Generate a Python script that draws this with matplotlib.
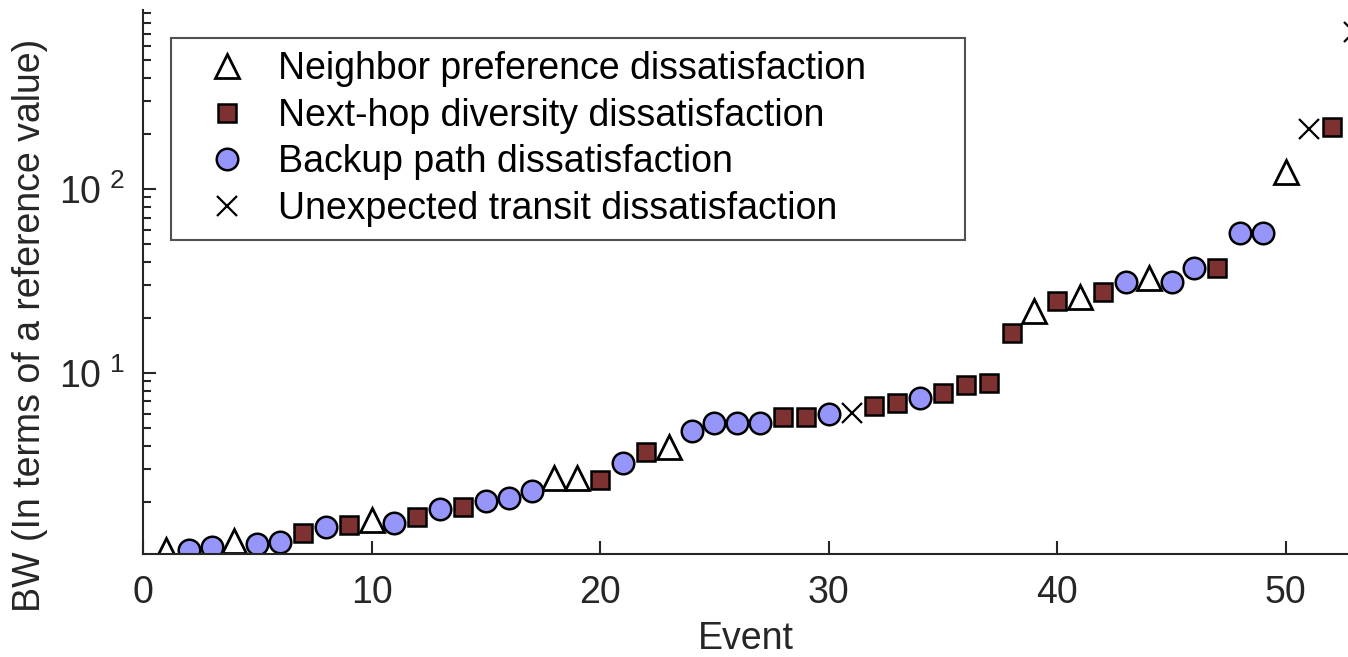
import matplotlib
matplotlib.use("Agg")
import matplotlib.pyplot as plt
from matplotlib.ticker import FixedLocator, FixedFormatter, NullFormatter

plt.rcParams['font.family'] = ['Liberation Sans', 'DejaVu Sans']
plt.rcParams['mathtext.fontset'] = 'custom'
plt.rcParams['mathtext.rm'] = 'Liberation Sans'

# values (event index, bandwidth)
neighbor_x = [1, 4, 10, 18, 19, 23, 39, 41, 44, 50]
neighbor_y = [1.09, 1.22, 1.59, 2.69, 2.69, 3.96, 21.7, 25.9, 32.8, 123.6]

nexthop_x = [7, 9, 12, 14, 20, 22, 28, 29, 32, 33, 35, 36, 37, 38, 40, 42, 47, 52]
nexthop_y = [1.35, 1.49, 1.65, 1.87, 2.62, 3.72, 5.77, 5.77, 6.6, 6.85,
             7.78, 8.61, 8.84, 16.5, 24.6, 27.5, 37.2, 217]

backup_x = [2, 3, 5, 6, 8, 11, 13, 15, 16, 17, 21, 24, 25, 26, 27, 30, 34, 43, 45, 46, 48, 49]
backup_y = [1.09, 1.13, 1.18, 1.21, 1.46, 1.53, 1.82, 2.01, 2.09, 2.29, 3.24, 4.84,
            5.35, 5.35, 5.35, 5.98, 7.31, 31.3, 31.3, 37.2, 57.7, 57.7]

transit_x = [31, 51, 53]
transit_y = [6.07, 212, 713]

labels = ["Neighbor preference dissatisfaction",
          "Next-hop diversity dissatisfaction",
          "Backup path dissatisfaction",
          "Unexpected transit dissatisfaction"]

axis_col = "#262626"
fs = 27

fig = plt.figure(figsize=(13.48, 6.57), dpi=100)
ax = fig.add_axes([0.1061, 0.1568, 0.8939, 0.828])

ax.plot(neighbor_x, neighbor_y, ls="none", marker="^", ms=17, mfc="white",
        mec="black", mew=2, label=labels[0])
ax.plot(nexthop_x, nexthop_y, ls="none", marker="s", ms=13, mfc="#7E3131",
        mec="black", mew=1.8, label=labels[1])
ax.plot(backup_x, backup_y, ls="none", marker="o", ms=15.5, mfc="#9696FA",
        mec="black", mew=1.8, label=labels[2])
ax.plot(transit_x, transit_y, ls="none", marker="x", ms=15, mec="black",
        mew=1.6, label=labels[3])

ax.set_yscale("log")
ax.set_xlim(0, 52.72)
ax.set_ylim(1.038, 940)

ax.set_xticks([0, 10, 20, 30, 40, 50])
ax.yaxis.set_major_locator(FixedLocator([10, 100]))
ax.yaxis.set_major_formatter(FixedFormatter([r"$\mathregular{10^{\ 1}}$", r"$\mathregular{10^{\ 2}}$"]))
minors = [v * d for d in (1, 10, 100) for v in range(2, 10)]
ax.yaxis.set_minor_locator(FixedLocator(minors))
ax.yaxis.set_minor_formatter(NullFormatter())

for side in ("top", "right"):
    ax.spines[side].set_visible(False)
for side in ("left", "bottom"):
    ax.spines[side].set_color(axis_col)
    ax.spines[side].set_linewidth(1.5)

ax.tick_params(which="major", direction="in", length=9.5, width=1.5,
               color=axis_col, labelcolor=axis_col, labelsize=fs)
ax.tick_params(axis="x", which="major", pad=15)
ax.tick_params(axis="y", which="major", pad=13)
ax.tick_params(which="minor", direction="in", length=5.8, width=1.5, color=axis_col)
ax.tick_params(axis="x", which="minor", bottom=False)

ax.set_xlabel("Event", fontsize=fs, color=axis_col, labelpad=7)
ax.set_ylabel("BW (In terms of a reference value)", fontsize=fs, color=axis_col)
ax.yaxis.set_label_coords(-0.079, 0.42)

leg = ax.legend(loc="upper left", bbox_to_anchor=(0.0232, 0.583, 0.6589, 0.3655),
                mode="expand", borderaxespad=0,
                fontsize=fs, frameon=True, fancybox=False, handletextpad=0.2,
                labelspacing=0.28, borderpad=0.35, handlelength=2.3)
leg.get_frame().set_edgecolor(axis_col)
leg.get_frame().set_linewidth(1.5)

fig.savefig("out.png", dpi=100)
